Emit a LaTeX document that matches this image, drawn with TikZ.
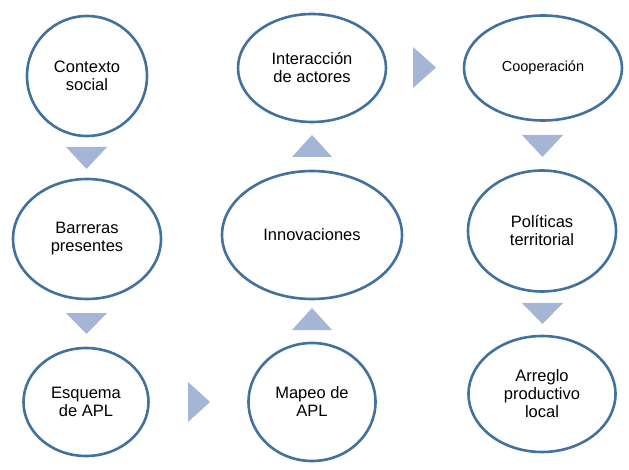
\documentclass[tikz,border=0pt]{standalone}
\usepackage{fontspec}
\setmainfont{Liberation Sans}
\usetikzlibrary{shapes.geometric}
\definecolor{ringblue}{HTML}{41719C}
\definecolor{arrowfill}{HTML}{A5B5D6}
\tikzset{
  stage/.style={ellipse, draw=ringblue, line width=2.6pt, fill=white, inner sep=0pt,
    align=center, font=\fontsize{16.5}{18}\selectfont, text=black},
  tri/.style={fill=arrowfill, draw=none}
}
\begin{document}
\begin{tikzpicture}[x=1pt,y=-1pt]
\useasboundingbox (0,0) rectangle (629,470);
% column 1
\node[stage, minimum width=120, minimum height=120] (ctx) at (87,76) {Contexto\\social};
\node[stage, minimum width=148, minimum height=120] (bar) at (87,239) {Barreras\\presentes};
\node[stage, minimum width=125, minimum height=108] (esq) at (86,402) {Esquema\\de APL};
% column 2
\node[stage, minimum width=127, minimum height=118] (map) at (312,402) {Mapeo de\\APL};
\node[stage, minimum width=180, minimum height=128] (inn) at (312,235) {Innovaciones};
\node[stage, minimum width=148, minimum height=108] (int) at (312,68) {Interacción\\de actores};
% column 3
\node[stage, minimum width=158, minimum height=105, font=\fontsize{14.5}{17}\selectfont] (coo) at (543,68) {Cooperación};
\node[stage, minimum width=148, minimum height=121] (pol) at (542,231) {Políticas\\territorial};
\node[stage, minimum width=147, minimum height=116] (arr) at (542,394) {Arreglo\\productivo\\local};
% triangles (flow markers)
\fill[tri] (66,147) -- (107,147) -- (86.5,169) -- cycle;
\fill[tri] (66,313) -- (107,313) -- (86.5,334) -- cycle;
\fill[tri] (188,382) -- (188,422) -- (210,402) -- cycle;
\fill[tri] (292,330) -- (332,330) -- (312,308) -- cycle;
\fill[tri] (292,157) -- (332,157) -- (312,135) -- cycle;
\fill[tri] (413,47) -- (413,88) -- (436,67.5) -- cycle;
\fill[tri] (522,135) -- (563,135) -- (542.5,157) -- cycle;
\fill[tri] (522,303) -- (563,303) -- (542.5,324) -- cycle;
\end{tikzpicture}
\end{document}
